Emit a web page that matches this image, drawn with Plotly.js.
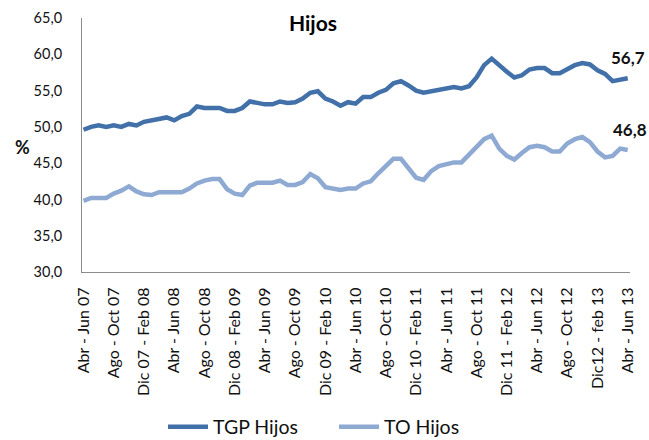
<!DOCTYPE html>
<html>
<head>
<meta charset="utf-8">
<script src="https://cdn.plot.ly/plotly-3.0.1.min.js"></script>
<style>html,body{margin:0;padding:0;background:#fff;}#chart{width:649px;height:440px;}</style>
</head>
<body>
<div id="chart"></div>
<script>
// Rolling quarters, Abr-Jun 07 ... Abr-Jun 13 (73 periods)
const monthNames = ["Ene","Feb","Mar","Abr","May","Jun","Jul","Ago","Sep","Oct","Nov","Dic"];
const periods = [];
for (let k = 0; k < 73; k++) {
  const s = 3 + k;
  const e = s + 2;
  const sy = 7 + Math.floor(s / 12), ey = 7 + Math.floor(e / 12);
  const yy = v => (v < 10 ? "0" : "") + v;
  periods.push(sy === ey
    ? monthNames[s % 12] + " - " + monthNames[e % 12] + " " + yy(ey)
    : monthNames[s % 12] + " " + yy(sy) + " - " + monthNames[e % 12] + " " + yy(ey));
}

const tickLabels = ["Abr - Jun 07","Ago - Oct 07","Dic 07 - Feb 08","Abr - Jun 08","Ago - Oct 08",
  "Dic 08 - Feb 09","Abr - Jun 09","Ago - Oct 09","Dic 09 - Feb 10","Abr - Jun 10","Ago - Oct 10",
  "Dic 10 - Feb 11","Abr - Jun 11","Ago - Oct 11","Dic 11 - Feb 12","Abr - Jun 12","Ago - Oct 12",
  "Dic12 - feb 13","Abr - Jun 13"];

const tgpHijos = [49.6,50.0,50.2,50.0,50.2,50.0,50.4,50.2,50.7,50.9,51.1,51.3,50.9,51.5,51.8,52.8,
  52.6,52.6,52.6,52.2,52.2,52.6,53.5,53.3,53.1,53.1,53.5,53.3,53.4,53.9,54.7,54.9,53.9,53.5,52.9,
  53.4,53.2,54.1,54.1,54.7,55.1,56.0,56.3,55.7,55.0,54.7,54.9,55.1,55.3,55.5,55.3,55.6,56.8,58.5,
  59.4,58.4,57.6,56.8,57.1,57.9,58.1,58.1,57.4,57.4,58.0,58.5,58.8,58.6,57.8,57.3,56.3,56.5,56.7];

const toHijos = [39.8,40.2,40.2,40.2,40.8,41.2,41.8,41.1,40.7,40.6,41.0,41.0,41.0,41.0,41.5,42.2,
  42.6,42.8,42.8,41.4,40.8,40.6,41.9,42.3,42.3,42.3,42.6,42.0,42.0,42.4,43.5,42.9,41.7,41.5,41.3,
  41.5,41.5,42.2,42.5,43.6,44.6,45.6,45.6,44.3,43.0,42.7,43.9,44.6,44.9,45.1,45.1,46.1,47.3,48.3,
  48.8,47.0,46.0,45.5,46.4,47.2,47.4,47.2,46.6,46.6,47.7,48.3,48.6,47.9,46.6,45.8,46.0,47.0,46.8];

const tickVals = periods.filter((p, i) => i % 4 === 0);
const fmt = v => v.toFixed(1).replace(".", ",");
const last = periods.length - 1;

const traces = [
  {x: periods, y: tgpHijos, name: "TGP Hijos", type: "scatter", mode: "lines",
   line: {color: "#4270a9", width: 4.5}},
  {x: periods, y: toHijos, name: "TO Hijos", type: "scatter", mode: "lines",
   line: {color: "#8eaad3", width: 4.5}}
];

const plotL = 82, plotR = 630, plotT = 18, plotB = 272;
const px2paperX = px => (px - plotL) / (plotR - plotL);
const px2paperY = py => (plotB - py) / (plotB - plotT);

const layout = {
  width: 649, height: 440,
  margin: {l: plotL, r: 649 - plotR, t: plotT, b: 440 - plotB},
  paper_bgcolor: "#fff", plot_bgcolor: "#fff",
  font: {family: "Lato, sans-serif", color: "#111"},
  separators: ",.",
  title: {text: "<b>Hijos</b>", font: {size: 21, color: "#000", family: "Lato, sans-serif"},
          x: 313/649, xanchor: "center", xref: "container", y: 1 - 24/440, yanchor: "middle", yref: "container"},
  xaxis: {type: "category", categoryorder: "array", categoryarray: periods,
          range: [-0.2, 72.3], tickmode: "array", tickvals: tickVals, ticktext: tickLabels,
          tickangle: -90, showgrid: false, zeroline: false, showline: true, linecolor: "#8c8c8c",
          linewidth: 1, ticks: "", tickfont: {size: 16, color: "#111"}, ticklabelstandoff: 8},
  yaxis: {range: [30, 65], dtick: 5, tick0: 30, tickformat: ".1f", showgrid: false, zeroline: false,
          showline: true, linecolor: "#8c8c8c", linewidth: 1, ticks: "",
          tickfont: {size: 14.5, color: "#111"}, ticklabelstandoff: 16},
  showlegend: true,
  legend: {orientation: "h", xref: "container", yref: "container", x: 163/649, xanchor: "left",
           y: 1 - 427/440, yanchor: "middle", font: {size: 19.5, color: "#111"}, itemwidth: 40,
           entrywidthmode: "pixels", entrywidth: 116},
  annotations: [
    {x: periods[last], y: tgpHijos[last], xref: "x", yref: "y", text: "<b>" + fmt(tgpHijos[last]) + "</b>",
     showarrow: false, yshift: 21, xshift: 0, font: {size: 17, color: "#111"}},
    {x: periods[last], y: toHijos[last], xref: "x", yref: "y", text: "<b>" + fmt(toHijos[last]) + "</b>",
     showarrow: false, yshift: 21, xshift: 2, font: {size: 17, color: "#111"}},
    {x: px2paperX(22), y: px2paperY(147), xref: "paper", yref: "paper", xanchor: "center", yanchor: "middle",
     text: "<b>%</b>", showarrow: false, font: {size: 18, color: "#111"}}
  ]
};

Plotly.newPlot("chart", traces, layout, {displayModeBar: false, staticPlot: true});
</script>
</body>
</html>
